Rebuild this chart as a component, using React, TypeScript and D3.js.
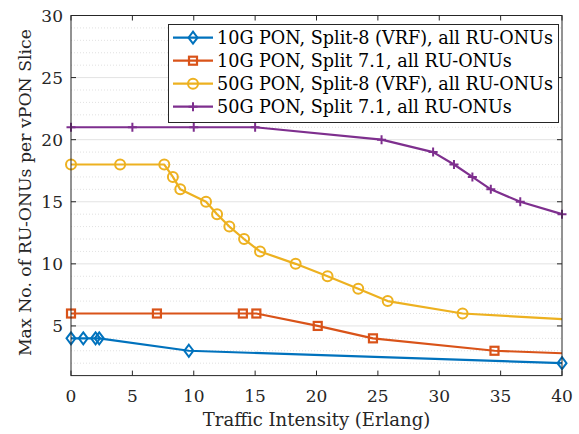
import * as d3 from "d3"
import React from "react"

// series: x = traffic intensity (Erlang), y = max RU-ONUs per vPON slice
const x10gS8 = [0, 1, 2, 2.3, 9.6, 40]
const y10gS8 = [4, 4, 4, 4, 3, 2]
const m10gS8 = [true, true, true, true, true, true]

const x10gS71 = [0, 7, 14, 15.1, 20.1, 24.6, 34.5, 40]
const y10gS71 = [6, 6, 6, 6, 5, 4, 3, 2.8]
const m10gS71 = [true, true, true, true, true, true, true, false]

const x50gS8 = [0, 4, 7.6, 8.3, 8.9, 11, 11.9, 12.9, 14.1, 15.4, 18.3, 20.9, 23.4, 25.8, 31.9, 40]
const y50gS8 = [18, 18, 18, 17, 16, 15, 14, 13, 12, 11, 10, 9, 8, 7, 6, 5.55]
const m50gS8 = [...Array(15).fill(true), false]

const x50gS71 = [0, 5, 10, 15, 25.3, 29.5, 31.2, 32.7, 34.2, 36.6, 40]
const y50gS71 = [21, 21, 21, 21, 20, 19, 18, 17, 16, 15, 14]

const seriesNames = [
  "10G PON, Split-8 (VRF), all RU-ONUs",
  "10G PON, Split 7.1, all RU-ONUs",
  "50G PON, Split-8 (VRF), all RU-ONUs",
  "50G PON, Split 7.1, all RU-ONUs",
]
const colors = ["#0072BD", "#D95319", "#EDB120", "#7E2F8E"]
const markers = ["diamond", "square", "circle", "plus"]

const xTicks = [0, 5, 10, 15, 20, 25, 30, 35, 40]
const yTicks = [5, 10, 15, 20, 25, 30]
const yMinor = d3.range(2, 30)

const font = "'DejaVu Serif', serif"

function Marker({ kind, x, y, color }: { kind: string; x: number; y: number; color: string }) {
  if (kind === "diamond")
    return <path d={`M${x},${y - 6}L${x + 4.5},${y}L${x},${y + 6}L${x - 4.5},${y}Z`} fill="none" stroke={color} strokeWidth={2} />
  if (kind === "square")
    return <rect x={x - 4} y={y - 4} width={8} height={8} fill="none" stroke={color} strokeWidth={2.2} />
  if (kind === "circle")
    return <circle cx={x} cy={y} r={5} fill="none" stroke={color} strokeWidth={2} />
  return <path d={`M${x - 4.5},${y}H${x + 4.5}M${x},${y - 4.5}V${y + 4.5}`} stroke={color} strokeWidth={2} />
}

export default function App() {
  const W = 579, H = 434
  const m = { left: 71, right: 17, top: 15.5, bottom: 58.4 }
  const x = d3.scaleLinear().domain([0, 40]).range([m.left, W - m.right])
  const y = d3.scaleLinear().domain([1, 30]).range([H - m.bottom, m.top])
  const line = d3.line<number[]>().x(d => x(d[0])).y(d => y(d[1]))

  const data = [
    { xs: x10gS8, ys: y10gS8, ms: m10gS8 },
    { xs: x10gS71, ys: y10gS71, ms: m10gS71 },
    { xs: x50gS8, ys: y50gS8, ms: m50gS8 },
    { xs: x50gS71, ys: y50gS71, ms: x50gS71.map(() => true) },
  ]
  const x0 = x(0), x1 = x(40), yb = y(1), yt = y(30)
  const axisColor = "#262626"

  return (
    <svg width={W} height={H} style={{ position: "absolute", left: 0, top: 0, background: "#fff" }}>
      {/* minor grid */}
      {yMinor.filter(v => v % 5 !== 0).map(v => (
        <line key={"mn" + v} x1={x0} x2={x1} y1={y(v)} y2={y(v)} stroke="#d9d9d9" strokeWidth={0.8} strokeDasharray="1,2" />
      ))}
      {/* major grid */}
      {yTicks.map(v => (
        <line key={"mj" + v} x1={x0} x2={x1} y1={y(v)} y2={y(v)} stroke="#e3e3e3" strokeWidth={1} />
      ))}

      {data.map((s, i) => {
        const pts = s.xs.map((v, j) => [v, s.ys[j]])
        return (
          <g key={i}>
            <path d={line(pts) || ""} fill="none" stroke={colors[i]} strokeWidth={2.2} strokeLinejoin="round" />
            {pts.map((p, j) => s.ms[j] ? <Marker key={j} kind={markers[i]} x={x(p[0])} y={y(p[1])} color={colors[i]} /> : null)}
          </g>
        )
      })}

      {/* axes box */}
      <rect x={x0} y={yt} width={x1 - x0} height={yb - yt} fill="none" stroke={axisColor} strokeWidth={1} />
      {xTicks.map(v => (
        <g key={"xt" + v}>
          <line x1={x(v)} x2={x(v)} y1={yb} y2={yb - 5} stroke={axisColor} />
          <line x1={x(v)} x2={x(v)} y1={yt} y2={yt + 5} stroke={axisColor} />
          <text x={x(v)} y={yb + 26} textAnchor="middle" fontFamily={font} fontSize={17} fill="#262626">{v}</text>
        </g>
      ))}
      {yTicks.map(v => (
        <g key={"yt" + v}>
          <line x1={x0} x2={x0 + 5} y1={y(v)} y2={y(v)} stroke={axisColor} />
          <line x1={x1} x2={x1 - 5} y1={y(v)} y2={y(v)} stroke={axisColor} />
          <text x={x0 - 8} y={y(v) + 6} textAnchor="end" fontFamily={font} fontSize={17} fill="#262626">{v}</text>
        </g>
      ))}

      <text x={(x0 + x1) / 2} y={426} textAnchor="middle" fontFamily={font} fontSize={18} fill="#262626">Traffic Intensity (Erlang)</text>
      <text transform={`translate(31,${(yb + yt) / 2 - 3}) rotate(-90)`} textAnchor="middle" fontFamily={font} fontSize={17.3} fill="#262626">Max No. of RU-ONUs per vPON Slice</text>

      {/* legend */}
      <g>
        <rect x={168.5} y={24.5} width={390} height={98} fill="#fff" stroke={axisColor} strokeWidth={1} />
        {seriesNames.map((n, i) => {
          const ly = 37.7 + i * 23
          return (
            <g key={n}>
              <line x1={173} x2={213} y1={ly} y2={ly} stroke={colors[i]} strokeWidth={2.2} />
              <Marker kind={markers[i]} x={193} y={ly} color={colors[i]} />
              <text x={217} y={ly + 6} fontFamily={font} fontSize={17.6} fill="#000">{n}</text>
            </g>
          )
        })}
      </g>
    </svg>
  )
}
